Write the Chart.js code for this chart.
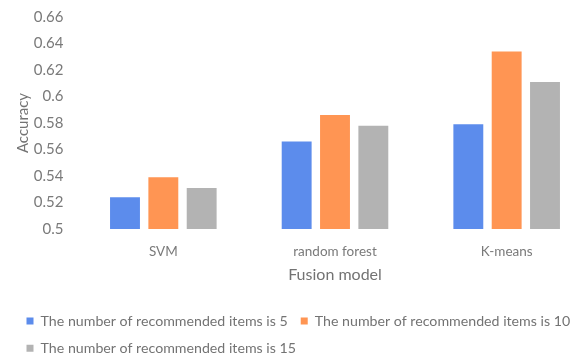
<!DOCTYPE html>
<html>
<head>
<meta charset="utf-8">
<script src="https://cdn.jsdelivr.net/npm/chart.js@4/dist/chart.umd.min.js"></script>
<style>
  html, body { margin: 0; padding: 0; background: #fff; }
  #wrap { width: 580px; height: 360px; overflow: hidden; position: relative; }
  canvas { display: block; }
</style>
</head>
<body>
<div id="wrap"><canvas id="accuracy" width="600" height="370"></canvas></div>
<script>
const models = ['SVM', 'random forest', 'K-means']
const acc5 = [0.524, 0.566, 0.579]
const acc10 = [0.539, 0.586, 0.634]
const acc15 = [0.531, 0.578, 0.611]
const seriesLabels = [
  'The number of recommended items is 5',
  'The number of recommended items is 10',
  'The number of recommended items is 15',
]
const yTicks = [0.5, 0.52, 0.54, 0.56, 0.58, 0.6, 0.62, 0.64, 0.66]

const BLUE = '#5c8cec'
const ORANGE = '#ff9553'
const GRAY = '#b3b3b3'
const TEXT = '#7a7a7a'
const FONT = 'Lato, "Open Sans", sans-serif'

Chart.defaults.font.family = FONT
Chart.defaults.color = TEXT

const ctx = document.getElementById('accuracy').getContext('2d')

const data = {
  labels: models,
  datasets: [
    { label: seriesLabels[0], data: acc5, backgroundColor: BLUE, yAxisID: 'y' },
    { label: seriesLabels[1], data: acc10, backgroundColor: ORANGE, yAxisID: 'y' },
    { label: seriesLabels[2], data: acc15, backgroundColor: GRAY, yAxisID: 'y' },
  ],
}

const config = {
  type: 'bar',
  data: data,
  options: {
    responsive: false,
    animation: false,
    layout: { padding: { left: 13.5, right: 0, top: 17, bottom: 4.7 } },
    datasets: {
      bar: { categoryPercentage: 0.67, barPercentage: 0.78 },
    },
    plugins: {
      tooltip: { enabled: false },
      legend: {
        position: 'bottom',
        align: 'start',
        labels: {
          boxWidth: 7,
          boxHeight: 7,
          padding: 13,
          color: '#737373',
          font: { size: 14.2 },
        },
      },
    },
    scales: {
      x: {
        grid: { display: false, drawTicks: false },
        border: { display: false },
        ticks: { padding: 14.2, color: TEXT, font: { size: 13.5 } },
        title: {
          display: true,
          text: 'Fusion model',
          color: '#737373',
          font: { size: 16 },
          padding: { top: 2, bottom: 16.3 },
        },
        afterFit: scale => { scale.height = 71.9 },
      },
      y: {
        min: 0.5,
        max: 0.66,
        grid: { display: false, drawTicks: false },
        border: { display: false },
        afterBuildTicks: scale => {
          scale.ticks = yTicks.map(v => ({ value: v }))
        },
        ticks: {
          padding: 14,
          color: TEXT,
          font: { size: 15 },
          callback: value => String(+value.toFixed(2)),
        },
        title: {
          display: true,
          text: 'Accuracy',
          color: '#737373',
          font: { size: 15 },
          padding: { top: 0.5, bottom: 0 },
        },
        afterFit: scale => {
          scale.width = 64
          // only half a label of headroom above the top tick
          scale.paddingTop = 9
        },
      },
      // blank strip on the right so the plot ends short of the canvas edge
      yRight: {
        position: 'right',
        grid: { display: false, drawTicks: false },
        border: { display: false },
        ticks: { display: false },
        afterFit: scale => { scale.width = 7.5 },
      },
    },
  },
}

const accuracyChart = new Chart(ctx, config)
</script>
</body>
</html>
